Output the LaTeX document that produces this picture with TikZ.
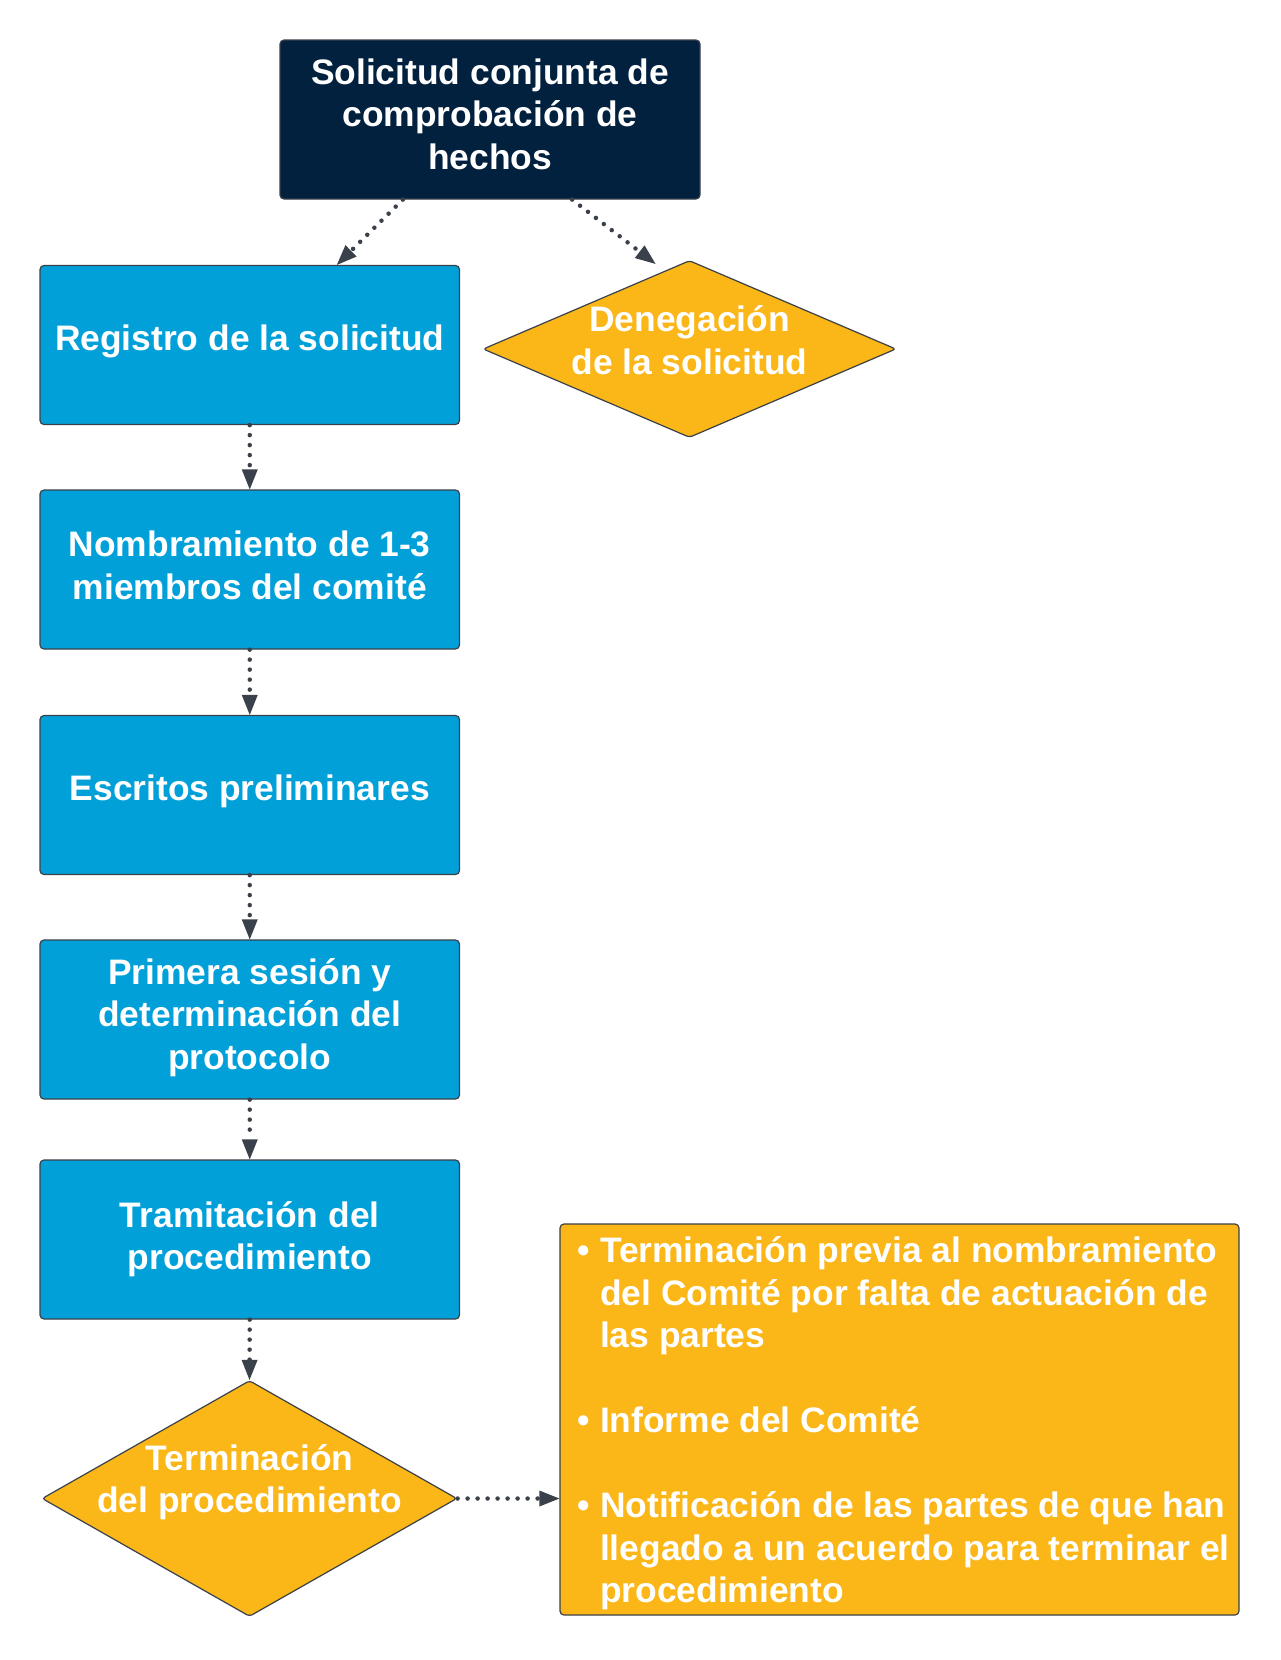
\documentclass[tikz,border=0pt]{standalone}
\usepackage{fontspec}
\setmainfont{Liberation Sans}
\usetikzlibrary{shapes.geometric,arrows.meta,calc}
\definecolor{navy}{HTML}{02213F}
\definecolor{lblue}{HTML}{02A0D9}
\definecolor{gold}{HTML}{FBB617}
\definecolor{edgegray}{HTML}{3A414A}
\newcommand{\bitem}{\hspace*{8.4pt}\textbullet\ }
\newcommand{\bcont}{\hspace*{8.4pt}\phantom{\textbullet\ }}
\begin{document}
\begin{tikzpicture}[x=1pt,y=-1pt,
  font=\fontsize{35.4}{42.5}\selectfont\bfseries,
  box/.style={draw=edgegray, line width=1.2pt, rounded corners=4pt, text=white, align=center, inner sep=0pt},
  bluebox/.style={box, fill=lblue, minimum width=419.5pt, minimum height=159pt, text depth=15pt},
  dia/.style={diamond, draw=edgegray, line width=1.2pt, fill=gold, rounded corners=3pt, inner sep=0pt},
  txt/.style={text=white, align=center, inner sep=0pt},
  flow/.style={draw=edgegray, line width=4.5pt, line cap=round, dash pattern=on 0pt off 10pt,
    -{Triangle[length=20pt,width=16pt,line width=0pt]}}
]
\useasboundingbox[fill=white] (0,0) rectangle (1280,1660);

\node[box, fill=navy, minimum width=420pt, minimum height=159pt, text depth=11pt] (top) at (490,119.5)
  {Solicitud conjunta de\\comprobación de\\hechos};

\node[bluebox] (reg) at (249.75,345) {Registro de la solicitud};
\node[bluebox, text depth=8.5pt] (nom) at (249.75,569.5) {Nombramiento de 1-3\\miembros del comité};
\node[bluebox] (esc) at (249.75,795) {Escritos preliminares};
\node[bluebox, text depth=11pt] (pri) at (249.75,1019.5) {Primera sesión y\\determinación del\\protocolo};
\node[bluebox, text depth=8pt] (tra) at (249.75,1239.5) {Tramitación del\\procedimiento};

\node[dia, minimum width=413pt, minimum height=177pt] (den) at (689.5,349) {};
\node[txt] (dent) at (689.5,340) {Denegación\\de la solicitud};

\node[dia, minimum width=415pt, minimum height=236pt] (ter) at (249.5,1498.5) {};
\node[txt] (tert) at (249.5,1482) {Terminación\\del procedimiento};

\node[box, fill=gold, minimum width=679pt, minimum height=391pt, align=left, text depth=0pt] (res) at (899.5,1419.5)
  {\bitem Terminación previa al nombramiento\\
   \bcont del Comité por falta de actuación de\\
   \bcont las partes\\[42.5pt]
   \bitem Informe del Comité\\[42.5pt]
   \bitem Notificación de las partes de que han\\
   \bcont llegado a un acuerdo para terminar el\\
   \bcont procedimiento};

\draw[flow] ($(top.south west)!0.293!(top.south east)$) -- ($(reg.north west)!0.707!(reg.north east)$);
\draw[flow] ($(top.south west)!0.695!(top.south east)$) -- ([xshift=-34pt,yshift=-4pt]den.north);
\draw[flow] (reg.south) -- (nom.north);
\draw[flow] (nom.south) -- (esc.north);
\draw[flow] (esc.south) -- (pri.north);
\draw[flow] (pri.south) -- (tra.north);
\draw[flow] (tra.south) -- (ter.north);
\draw[flow] (ter.east) -- (ter.east -| res.west);
\end{tikzpicture}
\end{document}
